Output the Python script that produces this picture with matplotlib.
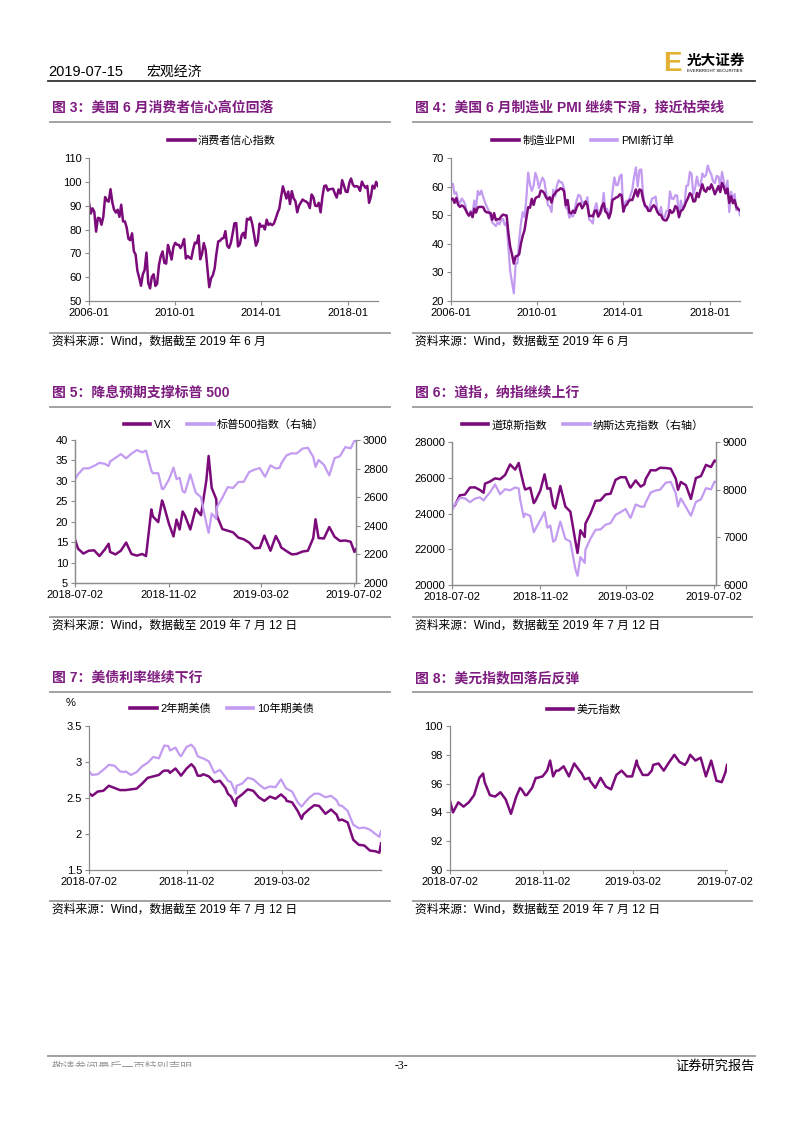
import pandas as pd
import matplotlib
matplotlib.use("Agg")
import matplotlib.pyplot as plt
import matplotlib.dates as mdates
from matplotlib.lines import Line2D
from matplotlib.patches import Rectangle

plt.rcParams['font.family'] = ['Liberation Sans', 'Noto Sans CJK SC', 'DejaVu Sans']

W, H = 802, 1133
DARK = '#7B0A7B'
LIGHT = '#C39BF0'
TITLE_C = '#7E1C80'
AX_GRAY = '#8c8c8c'

# ---- monthly data, 2006-01 .. 2019-06 ----
sentiment = [
    91.2, 86.7, 88.9, 87.4, 79.1, 84.9, 84.7, 82.0, 85.4, 93.6, 92.1, 91.7,
    96.9, 91.3, 88.4, 87.1, 88.3, 85.3, 90.4, 83.4, 83.4, 80.9, 76.1, 75.5,
    78.4, 70.8, 69.5, 62.6, 59.8, 56.4, 61.2, 63.0, 70.3, 57.6, 55.3, 60.1,
    61.2, 56.3, 57.3, 65.1, 68.7, 70.8, 66.0, 65.7, 73.5, 70.6, 67.4, 72.5,
    74.4, 73.6, 73.6, 72.2, 73.6, 76.0, 67.8, 68.9, 68.2, 67.7, 71.6, 74.5,
    74.2, 77.5, 67.5, 69.8, 74.3, 71.5, 63.7, 55.8, 59.5, 60.8, 63.7, 69.9,
    75.0, 75.3, 76.2, 76.4, 79.3, 73.2, 72.3, 74.3, 78.3, 82.6, 82.7, 72.9,
    73.8, 77.6, 78.6, 76.4, 84.5, 84.1, 85.1, 82.1, 77.5, 73.2, 75.1, 82.5,
    81.2, 81.6, 80.0, 84.1, 81.9, 82.5, 81.8, 82.5, 84.6, 86.9, 88.8, 93.6,
    98.1, 95.4, 93.0, 95.9, 90.7, 96.1, 93.1, 91.9, 87.2, 90.0, 91.3, 92.6,
    92.0, 91.7, 91.0, 89.0, 94.7, 93.5, 90.0, 89.8, 91.2, 87.2, 93.8, 98.2,
    98.5, 96.3, 96.9, 97.0, 97.1, 95.0, 93.4, 96.8, 95.1, 100.7, 98.5, 95.9,
    95.7, 99.7, 101.4, 98.8, 98.0, 98.2, 97.9, 96.2, 100.1, 98.6, 97.5, 98.3,
    91.2, 93.8, 98.4, 97.2, 100.0, 98.2,
]
pmi = [
    55.6, 55.8, 54.3, 56.0, 53.7, 52.9, 53.4, 53.1, 52.1, 50.8, 49.9, 51.0,
    49.3, 52.3, 50.9, 52.7, 52.9, 52.9, 52.8, 51.4, 51.0, 50.9, 50.8, 48.4,
    50.7, 48.3, 48.6, 48.6, 49.6, 50.2, 50.0, 49.9, 43.5, 38.9, 36.2, 33.1,
    35.6, 35.8, 36.3, 40.1, 42.8, 44.8, 48.9, 52.8, 52.6, 55.7, 53.6, 55.9,
    56.4, 56.5, 58.6, 58.4, 57.7, 56.2, 55.5, 56.3, 54.4, 56.9, 57.6, 58.5,
    58.8, 59.4, 59.2, 58.4, 53.5, 55.3, 50.9, 50.6, 51.6, 50.8, 52.7, 53.9,
    54.1, 52.4, 53.4, 54.8, 53.5, 49.7, 49.8, 49.6, 51.5, 51.7, 49.5, 50.7,
    53.1, 54.2, 51.3, 50.7, 49.0, 50.9, 55.4, 55.7, 56.2, 56.4, 57.3, 57.0,
    51.3, 53.2, 53.7, 54.9, 55.4, 55.3, 57.1, 59.0, 56.6, 59.0, 58.7, 55.5,
    53.5, 52.9, 51.5, 51.5, 52.8, 53.5, 52.7, 51.1, 50.2, 50.1, 48.6, 48.2,
    48.2, 49.5, 51.8, 50.8, 51.3, 53.2, 52.6, 49.4, 51.5, 51.9, 53.2, 54.7,
    56.0, 57.7, 57.2, 54.8, 54.9, 57.8, 56.3, 58.8, 60.8, 58.7, 58.2, 59.7,
    59.1, 60.8, 59.3, 57.3, 58.7, 60.2, 58.1, 61.3, 59.8, 57.7, 59.3, 54.3,
    56.6, 54.2, 55.3, 52.8, 52.1, 51.7,
]
new_orders = [
    59.8, 61.0, 57.5, 58.0, 55.0, 54.2, 55.8, 55.0, 53.6, 50.5, 49.6, 51.5,
    50.8, 55.1, 52.5, 58.5, 57.1, 58.6, 56.3, 54.5, 52.9, 51.6, 49.5, 47.5,
    46.8, 46.2, 47.6, 46.8, 48.3, 48.7, 46.5, 47.4, 38.4, 30.3, 26.4, 22.7,
    33.1, 33.2, 41.2, 47.2, 51.1, 49.3, 55.8, 64.9, 60.8, 58.5, 60.3, 64.8,
    62.9, 59.5, 61.5, 63.1, 62.0, 58.0, 53.5, 53.1, 51.1, 58.9, 56.6, 60.3,
    62.2, 61.5, 61.4, 59.4, 52.7, 52.0, 49.1, 50.0, 49.6, 52.4, 55.2, 57.1,
    56.8, 54.3, 54.6, 54.0, 56.3, 48.5, 48.0, 47.1, 52.3, 54.2, 50.3, 50.3,
    51.6, 57.8, 51.4, 52.3, 48.8, 51.9, 58.3, 63.2, 60.5, 60.6, 63.6, 64.2,
    51.2, 54.5, 55.1, 55.1, 56.9, 58.9, 63.4, 66.7, 60.0, 65.8, 66.0, 57.3,
    52.9, 52.5, 51.8, 53.5, 55.8, 56.0, 56.5, 51.7, 50.1, 52.9, 48.9, 49.2,
    51.5, 51.5, 58.3, 55.8, 55.7, 57.0, 56.9, 49.1, 55.1, 52.1, 53.0, 60.2,
    60.4, 65.1, 64.5, 57.2, 59.5, 63.5, 60.4, 60.3, 64.6, 63.4, 64.0, 67.4,
    65.4, 64.2, 61.9, 61.2, 63.7, 63.5, 60.2, 65.1, 61.8, 57.4, 62.1, 51.1,
    58.2, 55.5, 57.4, 51.7, 52.7, 50.0,
]
months = pd.date_range('2006-01-01', periods=len(sentiment), freq='MS')
month_ticks = ['2006-01-01', '2010-01-01', '2014-01-01', '2018-01-01']

# ---- weekly data, 2018-07-02 .. 2019-07-05 ----
days = [
    '2018-07-02', '2018-07-06', '2018-07-13', '2018-07-20', '2018-07-27', '2018-08-03',
    '2018-08-10', '2018-08-15', '2018-08-17', '2018-08-24', '2018-08-31', '2018-09-07',
    '2018-09-14', '2018-09-21', '2018-09-28', '2018-10-03', '2018-10-05', '2018-10-10',
    '2018-10-12', '2018-10-19', '2018-10-24', '2018-10-26', '2018-11-02', '2018-11-08',
    '2018-11-12', '2018-11-16', '2018-11-20', '2018-11-23', '2018-11-30', '2018-12-07',
    '2018-12-14', '2018-12-21', '2018-12-24', '2018-12-28', '2019-01-03', '2019-01-04',
    '2019-01-11', '2019-01-18', '2019-01-25', '2019-02-01', '2019-02-08', '2019-02-15',
    '2019-02-22', '2019-03-01', '2019-03-07', '2019-03-08', '2019-03-15', '2019-03-22',
    '2019-03-27', '2019-03-29', '2019-04-05', '2019-04-12', '2019-04-18', '2019-04-26',
    '2019-05-03', '2019-05-10', '2019-05-13', '2019-05-17', '2019-05-24', '2019-05-31',
    '2019-06-07', '2019-06-14', '2019-06-21', '2019-06-28', '2019-07-03', '2019-07-05',
]
vix = [
    15.6, 13.4, 12.2, 12.9, 13.0, 11.6, 13.2, 14.6, 12.6, 12.0, 12.9, 14.9,
    12.1, 11.7, 12.1, 11.6, 14.8, 23.0, 21.3, 19.9, 25.2, 24.2, 19.5, 16.4,
    20.5, 18.1, 22.5, 21.5, 18.1, 23.2, 21.6, 30.1, 36.1, 28.3, 25.5, 21.4,
    18.2, 17.8, 17.4, 16.1, 15.7, 14.9, 13.5, 13.6, 16.6, 16.1, 12.9, 16.5,
    14.7, 13.7, 12.8, 12.0, 12.1, 12.7, 12.9, 16.0, 20.6, 16.0, 15.9, 18.7,
    16.3, 15.3, 15.4, 15.1, 12.6, 13.3,
]
spx = [
    2726.7, 2759.8, 2801.3, 2801.8, 2818.8, 2840.4, 2833.3, 2818.4, 2850.1, 2874.7, 2901.5, 2871.7,
    2905.0, 2929.7, 2914.0, 2925.5, 2885.6, 2785.7, 2767.1, 2767.8, 2656.1, 2658.7, 2723.1, 2806.8,
    2726.2, 2736.3, 2641.9, 2632.6, 2760.2, 2633.1, 2600.0, 2416.6, 2351.1, 2485.7, 2447.9, 2532.0,
    2596.3, 2670.7, 2664.8, 2706.5, 2707.9, 2775.6, 2792.7, 2803.7, 2748.9, 2743.1, 2822.5, 2800.7,
    2805.4, 2834.4, 2892.7, 2907.4, 2905.0, 2939.9, 2945.6, 2881.4, 2811.9, 2859.5, 2826.1, 2752.1,
    2873.3, 2887.0, 2950.5, 2941.8, 2995.8, 2990.4,
]
dow = [
    24307, 24456, 25019, 25058, 25451, 25463, 25313, 25162, 25669, 25790, 25965, 25917,
    26154, 26743, 26458, 26828, 26447, 25599, 25340, 25444, 24583, 24688, 25270, 26191,
    25387, 25413, 24466, 24286, 25538, 24389, 24101, 22445, 21792, 23062, 22686, 23433,
    23996, 24706, 24737, 25064, 25106, 25883, 26031, 26026, 25473, 25450, 25849, 25502,
    25626, 25929, 26425, 26412, 26559, 26543, 26505, 25942, 25325, 25764, 25586, 24815,
    25984, 26090, 26719, 26600, 26966, 26922,
]
nasdaq = [
    7568, 7688, 7826, 7820, 7737, 7812, 7839, 7774, 7816, 7946, 8110, 7903,
    8010, 7987, 8046, 8025, 7789, 7422, 7497, 7449, 7108, 7167, 7357, 7531,
    7201, 7248, 6909, 6939, 7331, 6969, 6911, 6333, 6193, 6585, 6463, 6739,
    6972, 7157, 7165, 7264, 7298, 7472, 7528, 7595, 7422, 7408, 7689, 7643,
    7643, 7729, 7939, 7984, 7998, 8146, 8164, 7917, 7647, 7816, 7637, 7453,
    7742, 7797, 8032, 8006, 8170, 8162,
]
ust2y = [
    2.57, 2.53, 2.59, 2.60, 2.67, 2.64, 2.61, 2.61, 2.61, 2.62, 2.63, 2.70,
    2.78, 2.80, 2.82, 2.87, 2.88, 2.88, 2.85, 2.91, 2.84, 2.81, 2.91, 2.97,
    2.92, 2.81, 2.81, 2.83, 2.80, 2.72, 2.74, 2.64, 2.56, 2.52, 2.39, 2.49,
    2.55, 2.62, 2.60, 2.51, 2.46, 2.52, 2.49, 2.55, 2.49, 2.46, 2.44, 2.32,
    2.21, 2.27, 2.34, 2.40, 2.39, 2.28, 2.34, 2.27, 2.19, 2.20, 2.16, 1.92,
    1.85, 1.84, 1.77, 1.76, 1.74, 1.87,
]
ust10y = [
    2.87, 2.82, 2.83, 2.89, 2.96, 2.95, 2.87, 2.86, 2.87, 2.82, 2.86, 2.94,
    2.99, 3.07, 3.05, 3.18, 3.23, 3.22, 3.16, 3.20, 3.10, 3.08, 3.21, 3.24,
    3.19, 3.08, 3.06, 3.05, 3.01, 2.85, 2.89, 2.79, 2.74, 2.72, 2.56, 2.67,
    2.70, 2.78, 2.76, 2.69, 2.63, 2.66, 2.65, 2.76, 2.64, 2.63, 2.59, 2.44,
    2.38, 2.41, 2.50, 2.56, 2.56, 2.51, 2.53, 2.47, 2.40, 2.39, 2.32, 2.13,
    2.08, 2.09, 2.06, 2.00, 1.96, 2.04,
]
dxy = [
    94.8, 94.0, 94.7, 94.4, 94.7, 95.2, 96.4, 96.7, 96.1, 95.2, 95.1, 95.4,
    94.9, 93.9, 95.1, 95.7, 95.6, 95.2, 95.2, 95.7, 96.4, 96.4, 96.5, 96.9,
    97.6, 96.5, 96.9, 96.9, 97.2, 96.5, 97.4, 96.9, 96.7, 96.3, 96.4, 96.2,
    95.7, 96.4, 95.8, 95.6, 96.6, 96.9, 96.5, 96.5, 97.6, 97.3, 96.6, 96.6,
    96.9, 97.3, 97.4, 96.9, 97.4, 98.0, 97.5, 97.3, 97.5, 98.0, 97.6, 97.8,
    96.5, 97.6, 96.2, 96.1, 96.8, 97.3,
]
dates = pd.to_datetime(days)
day_ticks = ['2018-07-02', '2018-11-02', '2019-03-02', '2019-07-02']

SRC_M = '资料来源：Wind，数据截至 2019 年 6 月'
SRC_D = '资料来源：Wind，数据截至 2019 年 7 月 12 日'

fig = plt.figure(figsize=(W / 100, H / 100), dpi=100)


def box(x0, y0, x1, y1):
    return [x0 / W, 1 - y1 / H, (x1 - x0) / W, (y1 - y0) / H]


def hline(x0, x1, y, color, lw):
    fig.add_artist(Line2D([x0 / W, x1 / W], [1 - y / H, 1 - y / H], color=color, lw=lw))


def text(x, y, s, **kw):
    fig.text(x / W, 1 - y / H, s, **kw)


def frame(x0, x1, y_title, y_src, title, src):
    text(x0 + 2, y_title, title, fontsize=10, fontweight='bold', color=TITLE_C, va='center')
    hline(x0, x1, y_title + 14, '#9a9a9a', 1.3)
    hline(x0, x1, y_src, '#9a9a9a', 1.3)
    text(x0 + 2, y_src + 9, src, fontsize=8.5, va='center')


def style(ax, twin=False):
    ax.spines['top'].set_visible(False)
    if not twin:
        ax.spines['right'].set_visible(False)
    for s in ax.spines.values():
        s.set_color(AX_GRAY)
        s.set_linewidth(0.9)
    ax.tick_params(direction='out', length=3, width=0.8, color=AX_GRAY,
                   labelsize=8, pad=2)


def legend(ax, handles, cx, cy):
    leg = ax.legend(handles=handles, loc='center', bbox_to_anchor=(cx / W, 1 - cy / H),
                    bbox_transform=fig.transFigure, ncol=len(handles), frameon=False,
                    fontsize=8, handlelength=2.4, handletextpad=0.3,
                    columnspacing=1.4, borderaxespad=0)
    for ln in leg.get_lines():
        ln.set_linewidth(2.6)


def date_axis(ax, ticks, fmt, start, end):
    ax.set_xlim(pd.Timestamp(start), pd.Timestamp(end))
    ax.set_xticks(pd.to_datetime(ticks))
    ax.xaxis.set_major_formatter(mdates.DateFormatter(fmt))


# ---- header / footer ----
text(48, 72, '2019-07-15', fontsize=10.5, va='center')
text(146, 72, '宏观经济', fontsize=10, va='center')
hline(48, 755, 81, '#333333', 1.3)
text(663, 64, 'E', fontsize=20, fontweight='bold', color='#E2B032', va='center')
text(687, 61, '光大证券', fontsize=10.5, fontweight='bold', va='center')
text(687, 71, 'EVERBRIGHT SECURITIES', fontsize=3.2, va='center')

hline(48, 755, 1056, '#9a9a9a', 1.3)
text(52, 1068, '敬请参阅最后一页特别声明', fontsize=8.5, color='#9a9a9a', va='center')
fig.add_artist(Rectangle((0, 0), 0.45, 1 - 1067 / H, transform=fig.transFigure,
                         facecolor='white', edgecolor='none', zorder=20))
text(401, 1066, '-3-', fontsize=8.5, family='Liberation Serif', ha='center', va='center')
text(755, 1066, '证券研究报告', fontsize=9.5, ha='right', va='center')

# ---- 图3 ----
frame(50, 390, 108, 333, '图 3：美国 6 月消费者信心高位回落', SRC_M)
ax = fig.add_axes(box(89, 158, 378, 301))
l1, = ax.plot(months, sentiment, color=DARK, lw=1.8, label='消费者信心指数')
ax.set_ylim(50, 110)
ax.set_yticks(range(50, 111, 10))
date_axis(ax, month_ticks, '%Y-%m', '2006-01-01', '2019-06-01')
style(ax)
legend(ax, [l1], 222, 141)

# ---- 图4 ----
frame(413, 752, 108, 333, '图 4：美国 6 月制造业 PMI 继续下滑，接近枯荣线', SRC_M)
ax = fig.add_axes(box(451, 158, 740, 301))
l2, = ax.plot(months, new_orders, color=LIGHT, lw=1.6, label='PMI新订单', zorder=2)
l1, = ax.plot(months, pmi, color=DARK, lw=1.8, label='制造业PMI', zorder=3)
ax.set_ylim(20, 70)
ax.set_yticks(range(20, 71, 10))
date_axis(ax, month_ticks, '%Y-%m', '2006-01-01', '2019-06-01')
style(ax)
legend(ax, [l1, l2], 583, 141)

# ---- 图5 ----
frame(50, 390, 393, 617, '图 5：降息预期支撑标普 500', SRC_D)
ax = fig.add_axes(box(75, 440, 356, 583))
ax2 = ax.twinx()
l1, = ax.plot(dates, vix, color=DARK, lw=1.8, label='VIX')
l2, = ax2.plot(dates, spx, color=LIGHT, lw=1.6, label='标普500指数（右轴）')
ax.set_ylim(5, 40)
ax.set_yticks(range(5, 41, 5))
ax2.set_ylim(2000, 3000)
ax2.set_yticks(range(2000, 3001, 200))
date_axis(ax, day_ticks, '%Y-%m-%d', '2018-07-02', '2019-07-05')
style(ax, twin=True)
style(ax2, twin=True)
legend(ax2, [l1, l2], 224, 425)

# ---- 图6 ----
frame(413, 752, 393, 617, '图 6：道指，纳指继续上行', SRC_D)
ax = fig.add_axes(box(452, 442, 716, 585))
ax2 = ax.twinx()
l1, = ax.plot(dates, dow, color=DARK, lw=1.8, label='道琼斯指数')
l2, = ax2.plot(dates, nasdaq, color=LIGHT, lw=1.6, label='纳斯达克指数（右轴）')
ax.set_ylim(20000, 28000)
ax.set_yticks(range(20000, 28001, 2000))
ax2.set_ylim(6000, 9000)
ax2.set_yticks(range(6000, 9001, 1000))
date_axis(ax, day_ticks, '%Y-%m-%d', '2018-07-02', '2019-07-05')
style(ax, twin=True)
style(ax2, twin=True)
legend(ax2, [l1, l2], 583, 425)

# ---- 图7 ----
frame(50, 390, 678, 901, '图 7：美债利率继续下行', SRC_D)
ax = fig.add_axes(box(89, 726, 381, 870))
l1, = ax.plot(dates, ust2y, color=DARK, lw=1.8, label='2年期美债')
l2, = ax.plot(dates, ust10y, color=LIGHT, lw=1.6, label='10年期美债')
ax.set_ylim(1.5, 3.5)
ax.set_yticks([1.5, 2, 2.5, 3, 3.5])
ax.set_yticklabels(['1.5', '2', '2.5', '3', '3.5'])
date_axis(ax, day_ticks[:3], '%Y-%m-%d', '2018-07-02', '2019-07-05')
style(ax)
legend(ax, [l1, l2], 222, 709)
text(71, 703, '%', fontsize=8, ha='center', va='center')

# ---- 图8 ----
frame(413, 752, 678, 901, '图 8：美元指数回落后反弹', SRC_D)
ax = fig.add_axes(box(450, 726, 727, 870))
l1, = ax.plot(dates, dxy, color=DARK, lw=1.8, label='美元指数')
ax.set_ylim(90, 100)
ax.set_yticks(range(90, 101, 2))
date_axis(ax, day_ticks, '%Y-%m-%d', '2018-07-02', '2019-07-05')
style(ax)
legend(ax, [l1], 584, 710)

fig.savefig('out.png', dpi=100)
